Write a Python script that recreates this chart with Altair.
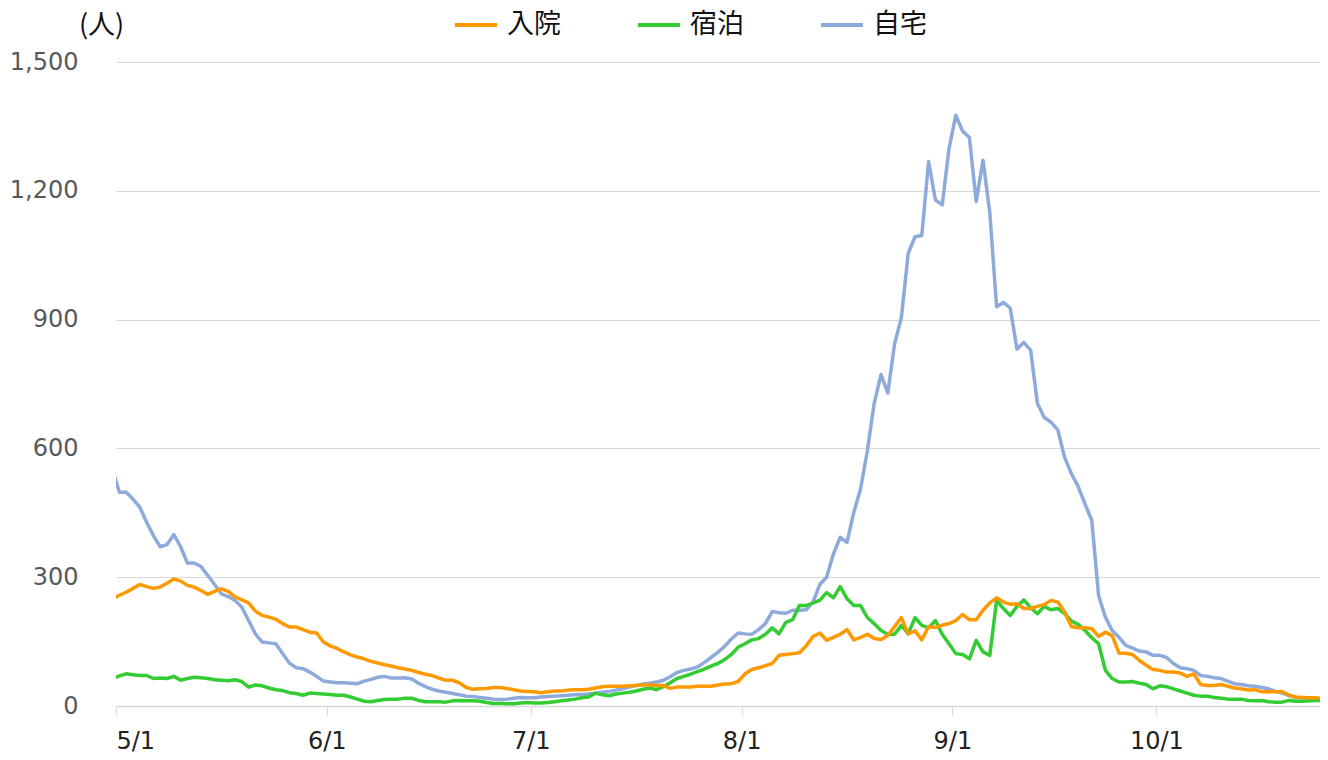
import altair as alt
import pandas as pd

# Daily values, 2021-04-30 .. 2021-10-25 (the 4/30 point is clipped at the left edge)
start_day = "2021-04-30 12:00"
series_names = ["入院", "宿泊", "自宅"]
series_colors = ["#FF9900", "#33CC33", "#8EA9DB"]
month_ticks = [(2021, m, 1) for m in range(5, 11)]

jitaku = [550,
    498, 498, 482, 463, 428, 397, 371, 376, 399, 371,
    333, 333, 325, 304, 283, 261, 255, 246, 230, 199,
    168, 149, 147, 145, 122, 100, 89, 87, 79, 69,
    58, 56, 54, 54, 53, 52, 58, 62, 67, 69,
    65, 65, 66, 63, 53, 45, 39, 35, 32, 29,
    26, 23, 22, 20, 18, 16, 15, 16, 18, 20,
    19, 19, 21, 22, 23, 24, 25, 26, 27, 28,
    30, 32, 34, 37, 40, 44, 48, 51, 53, 56,
    60, 68, 78, 83, 86, 91, 101, 113, 125, 139,
    156, 170, 168, 167, 178, 192, 220, 217, 216, 223,
    223, 224, 242, 283, 300, 354, 393, 381, 451, 506,
    595, 705, 772, 729, 844, 905, 1054, 1093, 1096, 1268,
    1179, 1167, 1298, 1376, 1339, 1324, 1175, 1271, 1149, 930,
    940, 927, 831, 847, 829, 705, 672, 661, 643, 579,
    541, 511, 471, 432, 257, 207, 176, 160, 141, 135,
    128, 126, 118, 118, 113, 99, 89, 87, 83, 71,
    69, 66, 64, 58, 52, 50, 47, 46, 43, 40,
    34, 30, 24, 20, 19, 18, 17, 16]

nyuin = [250,
    258, 265, 274, 283, 278, 274, 277, 286, 296, 291,
    281, 277, 269, 260, 267, 273, 267, 254, 247, 240,
    221, 211, 207, 202, 192, 184, 184, 178, 172, 170,
    149, 140, 134, 126, 119, 114, 110, 104, 100, 96,
    93, 89, 86, 83, 78, 74, 71, 65, 60, 60,
    54, 43, 39, 40, 41, 43, 43, 41, 38, 35,
    34, 33, 31, 33, 35, 35, 37, 38, 38, 39,
    42, 45, 46, 46, 46, 47, 48, 49, 49, 48,
    48, 41, 44, 44, 44, 46, 46, 46, 49, 51,
    52, 57, 75, 85, 89, 94, 99, 118, 120, 122,
    124, 140, 162, 170, 153, 160, 167, 178, 154, 160,
    167, 157, 155, 164, 185, 206, 168, 175, 154, 185,
    183, 188, 192, 199, 213, 201, 201, 223, 240, 252,
    242, 237, 238, 227, 227, 232, 236, 246, 242, 219,
    185, 182, 182, 180, 162, 172, 164, 123, 123, 120,
    106, 95, 85, 83, 79, 79, 77, 69, 75, 50,
    48, 48, 50, 46, 42, 40, 37, 38, 33, 33,
    33, 34, 25, 21, 20, 19, 19, 17]

shukuhaku = [64,
    70, 75, 73, 71, 71, 64, 65, 64, 69, 60,
    64, 67, 66, 64, 61, 60, 59, 61, 57, 44,
    49, 47, 42, 38, 36, 31, 29, 25, 30, 29,
    28, 27, 25, 25, 21, 16, 11, 10, 13, 15,
    16, 16, 18, 18, 13, 10, 10, 10, 9, 12,
    13, 12, 12, 11, 8, 6, 6, 5, 5, 7,
    8, 7, 7, 8, 10, 12, 14, 16, 19, 21,
    30, 26, 24, 28, 30, 32, 35, 39, 42, 38,
    45, 54, 64, 69, 74, 80, 86, 93, 99, 108,
    120, 137, 145, 154, 157, 167, 182, 168, 195, 201,
    234, 234, 240, 246, 264, 252, 278, 250, 234, 234,
    206, 192, 176, 167, 167, 188, 168, 206, 188, 182,
    199, 167, 145, 122, 120, 110, 153, 126, 118, 246,
    227, 211, 232, 247, 229, 215, 232, 224, 227, 215,
    198, 190, 176, 159, 145, 83, 64, 56, 56, 57,
    53, 50, 40, 47, 45, 40, 35, 30, 25, 23,
    23, 20, 18, 16, 16, 16, 13, 12, 13, 10,
    9, 9, 13, 11, 11, 12, 13, 13]

dates = pd.date_range(start_day, periods=len(nyuin), freq="D")
wide = pd.DataFrame({"date": dates, "入院": nyuin, "宿泊": shukuhaku, "自宅": jitaku})
data = wide.melt("date", var_name="series", value_name="value")

x_enc = alt.X(
    "date:T",
    scale=alt.Scale(domain=[alt.DateTime(year=2021, month=5, date=1),
                            alt.DateTime(year=2021, month=10, date=25, hours=1, minutes=25)],
                    nice=False),
    axis=alt.Axis(
        values=[alt.DateTime(year=y, month=m, date=d) for (y, m, d) in month_ticks],
        format="%-m/%-d", title=None, grid=False,
        domainColor="#d9d9d9", domainWidth=1.5,
        tickColor="#d9d9d9", tickSize=9, tickWidth=1.2,
        labelFontSize=24, labelColor="#222222", labelPadding=14,
        labelFont="DejaVu Sans"),
)
y_enc = alt.Y(
    "value:Q",
    scale=alt.Scale(domain=[0, 1500], nice=False),
    axis=alt.Axis(
        values=[0, 300, 600, 900, 1200, 1500], format=",d",
        ticks=False, tickSize=0, domain=False,
        gridColor="#d9d9d9", gridWidth=1.2,
        labelFontSize=24, labelColor="#595959", labelPadding=38,
        labelFont="DejaVu Sans",
        title="(人)", titleAngle=0, titleX=-15, titleY=-37,
        titleAlign="center", titleBaseline="middle",
        titleFont="Noto Sans CJK JP", titleFontSize=27, titleFontWeight="normal",
        titleColor="#111111"),
)
color_enc = alt.Color(
    "series:N",
    scale=alt.Scale(domain=series_names, range=series_colors),
    legend=alt.Legend(
        orient="none", legendX=337, legendY=-60, direction="horizontal",
        title=None, symbolType="stroke", symbolSize=1764, symbolStrokeWidth=4,
        labelFontSize=27, labelFont="Noto Sans CJK JP", labelColor="#111111",
        labelOffset=8, columnPadding=69, padding=0, columns=3),
)

def series_layer(name):
    return alt.Chart(data).transform_filter(
        alt.datum.series == name
    ).mark_line(strokeWidth=3.5, strokeJoin="round", clip=True).encode(
        x=x_enc, y=y_enc, color=color_enc
    )

chart = alt.layer(
    series_layer("自宅"), series_layer("宿泊"), series_layer("入院")
).properties(
    width=1204, height=644,
    padding={"left": 108, "top": 54, "right": 0, "bottom": 50},
    autosize=alt.AutoSizeParams(type="none"),
).configure_view(stroke=None)

chart.save("out.html", embed_options={"renderer": "svg", "actions": False})
